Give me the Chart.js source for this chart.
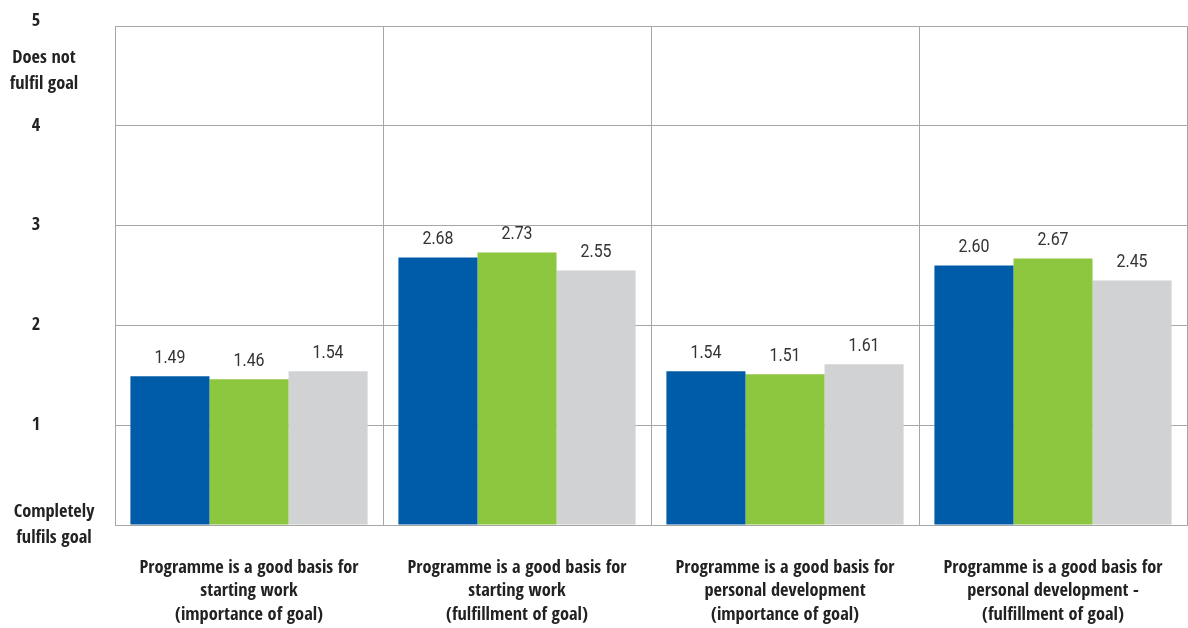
<!DOCTYPE html>
<html>
<head>
<meta charset="utf-8">
<script src="https://cdn.jsdelivr.net/npm/chart.js@4/dist/chart.umd.min.js"></script>
<style>
  html, body { margin: 0; padding: 0; background: #fff; }
  #wrap { width: 1188px; height: 628px; }
</style>
</head>
<body>
<div id="wrap"><canvas id="grafico"></canvas></div>
<script>
const categorias = [
  ["Programme is a good basis for", "starting work", "(importance of goal)"],
  ["Programme is a good basis for", "starting work", "(fulfillment of goal)"],
  ["Programme is a good basis for", "personal development", "(importance of goal)"],
  ["Programme is a good basis for", "personal development -", "(fulfillment of goal)"]
];

const serieAzul = [1.49, 2.68, 1.54, 2.60];
const serieVerde = [1.46, 2.73, 1.51, 2.67];
const serieCinza = [1.54, 2.55, 1.61, 2.45];

const yTickValores = [0, 1, 2, 3, 4, 4.55, 5];
const yTickLabels = [
  ["Completely", "fulfils goal"], "1", "2", "3", "4", ["Does not", "fulfil goal"], "5"
];

// escolhe a fonte mais estreita instalada (o original usa uma fonte condensada)
const medidor = document.createElement("canvas").getContext("2d");
function largura(fonte, texto) {
  medidor.font = fonte;
  return medidor.measureText(texto).width;
}
function instalada(nome) {
  const t = "Programme is a good basis for 1.49";
  return ["monospace", "serif"].some(fb =>
    largura("bold 20px " + fb, t) !== largura(`bold 20px '${nome}', ${fb}`, t));
}
const candidatas = [
  "Liberation Sans Narrow", "DejaVu Sans Condensed", "Roboto Condensed",
  "Open Sans Condensed", "Noto Sans Condensed", "Roboto", "Lato",
  "Liberation Sans", "Noto Sans", "Open Sans", "DejaVu Sans"
];
let fonte = "'Roboto'";
let menor = Infinity;
candidatas.filter(instalada).forEach(nome => {
  const w = largura(`bold 20px '${nome}'`, "Programme is a good basis for");
  if (w < menor) { menor = w; fonte = `'${nome}'`; }
});

const tamRotulo = Math.min(19, 17 * 219 / largura(`bold 17px ${fonte}`, "Programme is a good basis for"));

// valores: fonte normal, comprimida na horizontal
const fonteValor = "18px Roboto, 'Liberation Sans', sans-serif";
const escalaValor = Math.min(1, 31 / largura(fonteValor, "1.49"));

// rótulos de valor acima das barras
const rotulosValor = {
  id: "rotulosValor",
  afterDatasetsDraw(chart) {
    const ctx = chart.ctx;
    chart.data.datasets.forEach((ds, i) => {
      chart.getDatasetMeta(i).data.forEach((bar, j) => {
        ctx.save();
        ctx.font = fonteValor;
        ctx.fillStyle = "#333";
        ctx.textAlign = "center";
        ctx.textBaseline = "middle";
        ctx.translate(bar.x, bar.y - 18);
        ctx.scale(escalaValor, 1);
        ctx.fillText(ds.data[j].toFixed(2), 0, 0);
        ctx.restore();
      });
    });
  }
};

// rótulos do eixo y (números e textos com centros diferentes, como no original)
const rotulosEixoY = {
  id: "rotulosEixoY",
  afterDraw(chart) {
    const ctx = chart.ctx;
    const y = chart.scales.y;
    ctx.save();
    ctx.font = `bold ${tamRotulo}px ${fonte}`;
    ctx.fillStyle = "#222";
    ctx.textAlign = "center";
    ctx.textBaseline = "middle";
    yTickValores.forEach((v, i) => {
      const rotulo = yTickLabels[i];
      const py = y.getPixelForValue(v);
      if (Array.isArray(rotulo)) {
        const cx = v === 0 ? 54 : 44;
        rotulo.forEach((linha, k) => {
          ctx.fillText(linha, cx, py + (k - (rotulo.length - 1) / 2) * 26);
        });
      } else {
        ctx.fillText(rotulo, 36, v === 5 ? py - 5 : py);
      }
    });
    ctx.restore();
  }
};

new Chart(document.getElementById("grafico"), {
  type: "bar",
  data: {
    labels: categorias,
    datasets: [
      { label: "Série 1", data: serieAzul, backgroundColor: "#005ca9" },
      { label: "Série 2", data: serieVerde, backgroundColor: "#8dc63f" },
      { label: "Série 3", data: serieCinza, backgroundColor: "#d1d2d4" }
    ]
  },
  options: {
    responsive: true,
    maintainAspectRatio: false,
    animation: false,
    layout: { padding: { top: 26, right: 1, bottom: 0 } },
    datasets: { bar: { barPercentage: 1, categoryPercentage: 0.885 } },
    plugins: { legend: { display: false }, tooltip: { enabled: false } },
    scales: {
      x: {
        afterFit(scale) {
          scale.height = 103;
          scale.paddingLeft = 0;
          scale.paddingRight = 0;
        },
        grid: { color: "#a6a6a6", drawTicks: false, offset: true },
        border: { color: "#a6a6a6" },
        ticks: {
          padding: 31,
          color: "#222",
          maxRotation: 0,
          autoSkip: false,
          font: { family: fonte, size: tamRotulo, weight: "bold", lineHeight: 23.5 / tamRotulo }
        }
      },
      y: {
        min: 0,
        max: 5,
        afterBuildTicks(scale) {
          scale.ticks = yTickValores.map(v => ({ value: v }));
        },
        afterFit(scale) {
          scale.width = 115;
          scale.paddingTop = 0;
          scale.paddingBottom = 0;
        },
        grid: {
          drawTicks: false,
          color: (c) => (c.tick && c.tick.value === 4.55 ? "rgba(0,0,0,0)" : "#a6a6a6")
        },
        border: { color: "#a6a6a6" },
        ticks: { display: false }
      }
    }
  },
  plugins: [rotulosValor, rotulosEixoY]
});
</script>
</body>
</html>
